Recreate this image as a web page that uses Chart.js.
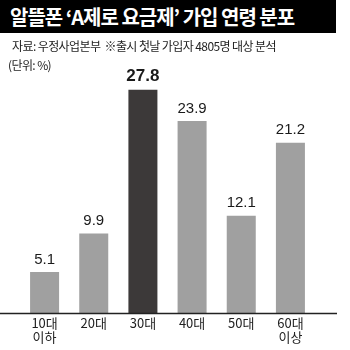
<!DOCTYPE html>
<html>
<head>
<meta charset="utf-8">
<script src="https://cdn.jsdelivr.net/npm/chart.js@4/dist/chart.umd.min.js"></script>
<style>
  html, body { margin: 0; padding: 0; background: #fff; }
  #wrap { position: relative; width: 350px; height: 350px; overflow: hidden; }
  #title {
    position: absolute; left: 0; top: 0; width: 336px; height: 33px;
    background: #000; color: #fff;
    font-family: "Noto Sans CJK KR", sans-serif; font-weight: bold;
    font-size: 20px; line-height: 33px; letter-spacing: -1px;
    padding-left: 10px; box-sizing: border-box; white-space: nowrap;
  }
  .note {
    position: absolute; color: #222; white-space: nowrap;
    font-family: "Noto Sans CJK KR", sans-serif; font-size: 12px; letter-spacing: -0.6px;
  }
  #src { left: 12px; top: 37px; }
  #unit { left: 8px; top: 56px; }
  canvas { position: absolute; left: 0; top: 0; }
</style>
</head>
<body>
<div id="wrap">
  <canvas id="myChart" width="350" height="350"></canvas>
  <div id="title">알뜰폰 ‘A제로 요금제’ 가입 연령 분포</div>
  <div class="note" id="src">자료: 우정사업본부 &nbsp;※출시 첫날 가입자 4805명 대상 분석</div>
  <div class="note" id="unit">(단위: %)</div>
</div>
<script>
const labels_arr = [['10대', '이하'], ['20대'], ['30대'], ['40대'], ['50대'], ['60대', '이상']];
const data_arr = [5.1, 9.9, 27.8, 23.9, 12.1, 21.2];
const highlight = 2;

const colors = data_arr.map((v, i) => i === highlight ? '#3c3939' : '#a0a0a0');

const valueLabels = {
    id: 'valueLabels',
    afterDatasetsDraw(chart) {
        const ctx = chart.ctx;
        const meta = chart.getDatasetMeta(0);
        ctx.save();
        ctx.textAlign = 'center';
        ctx.textBaseline = 'bottom';
        ctx.fillStyle = '#1a1a1a';
        meta.data.forEach((bar, i) => {
            ctx.font = i === highlight ? 'bold 17px "Liberation Sans", Arial' : '15px "Liberation Sans", Arial';
            ctx.fillText(data_arr[i].toFixed(1), bar.x, bar.y - 5);
        });
        ctx.restore();
    }
};

const baseLine = {
    id: 'baseLine',
    afterDatasetsDraw(chart) {
        const ctx = chart.ctx;
        const y = Math.round(chart.scales.y.getPixelForValue(0)) + 0.5;
        ctx.save();
        ctx.strokeStyle = '#222';
        ctx.lineWidth = 1.5;
        ctx.beginPath();
        ctx.moveTo(0, y);
        ctx.lineTo(337, y);
        ctx.stroke();
        ctx.restore();
    }
};

const ctx = document.getElementById('myChart').getContext('2d');
const myChart = new Chart(ctx, {
    type: 'bar',
    data: {
        labels: labels_arr,
        datasets: [{
            data: data_arr,
            backgroundColor: colors,
            borderWidth: 0,
            barPercentage: 0.59,
            categoryPercentage: 1
        }]
    },
    options: {
        responsive: false,
        animation: false,
        layout: { padding: { left: 20, right: 35, top: 72, bottom: 3 } },
        plugins: {
            legend: { display: false },
            tooltip: { enabled: false }
        },
        scales: {
            x: {
                grid: { display: false, drawTicks: false },
                border: { display: false },
                ticks: {
                    color: '#222',
                    padding: 2,
                    font: { family: '"Noto Sans CJK KR", sans-serif', size: 13, lineHeight: 1.15 }
                }
            },
            y: {
                display: false,
                min: 0,
                max: 30
            }
        }
    },
    plugins: [valueLabels, baseLine]
});
</script>
</body>
</html>
